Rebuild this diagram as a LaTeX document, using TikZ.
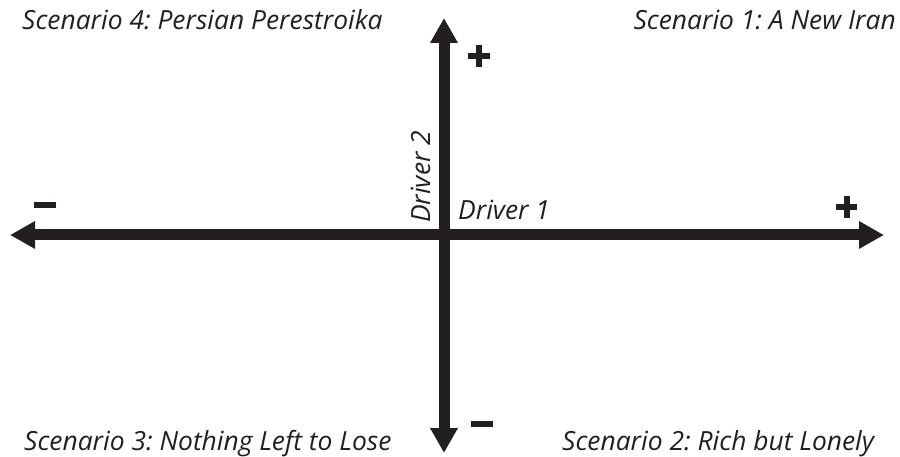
\documentclass[tikz,border=0pt]{standalone}
\usepackage{fontspec}
\setmainfont{Open Sans}
\usetikzlibrary{arrows.meta}
\definecolor{ink}{HTML}{231F20}
\frenchspacing
\begin{document}
\begin{tikzpicture}[x=1pt,y=-1pt,
  axis/.style={draw=ink,line width=11pt,
    arrows={Triangle[length=25pt,width=26pt,fill=ink]-Triangle[length=25pt,width=26pt,fill=ink]}},
  lbl/.style={inner sep=0pt,font=\fontsize{26.4}{30}\selectfont\itshape,text=ink},
  sign/.style={fill=ink,draw=none}]
\useasboundingbox (0,0) rectangle (900,457);
% axis end points
\coordinate (L) at (10,235);
\coordinate (R) at (884,235);
\coordinate (T) at (444,18);
\coordinate (B) at (444,453);
\draw[axis] (L) -- (R);
\draw[axis] (B) -- (T);
% plus and minus markers
\fill[sign] (34,202) rectangle (56,208);
\fill[sign] (836,204) rectangle (857,210);
\fill[sign] (843.5,196) rectangle (849.5,218);
\fill[sign] (468,53) rectangle (490,59);
\fill[sign] (476,45) rectangle (482,67);
\fill[sign] (471,421) rectangle (493,427);
% axis names
\node[lbl,anchor=base west] (d1) at (458,220) {Driver 1};
\node[lbl,anchor=base west,rotate=90] (d2) at (430,223) {Driver 2};
% scenario labels
\node[lbl,anchor=base west] (s4) at (22,30) {Scenario 4: Persian Perestroika};
\node[lbl,anchor=base east] (s1) at (896,30) {Scenario 1: A New Iran};
\node[lbl,anchor=base west] (s3) at (24,450) {Scenario 3: Nothing Left to Lose};
\node[lbl,anchor=base west] (s2) at (562,450) {Scenario 2: Rich but Lonely};
\end{tikzpicture}
\end{document}
